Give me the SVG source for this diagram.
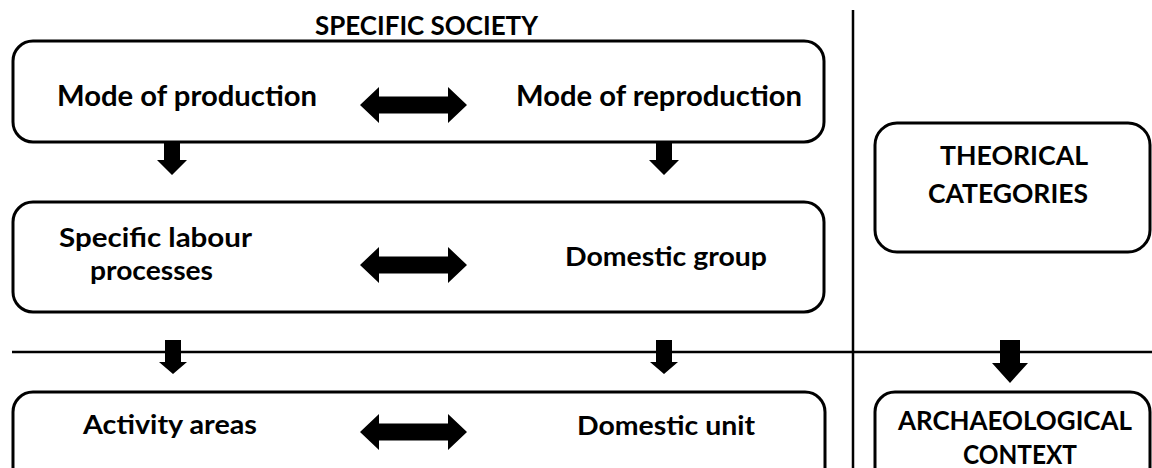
<svg xmlns="http://www.w3.org/2000/svg" width="1152" height="468" viewBox="0 0 1152 468">
<style>
.box{fill:#fff;stroke:#000;stroke-width:3}
.ln{stroke:#000;stroke-width:2.5;fill:none}
.t{font-family:Lato,"Open Sans",sans-serif;font-weight:bold;font-size:26px;fill:#000}
.ar{fill:#000}
</style>
<defs>
<path id="dbl" d="M0,0 L19,-18 L19,-8.5 L88,-8.5 L88,-18 L107,0 L88,18 L88,8.5 L19,8.5 L19,18 Z"/>
<path id="dn" d="M-8,0 L8,0 L8,18 L15,18 L0,33 L-15,18 L-8,18 Z"/>
<path id="dn2" d="M-8,0 L8,0 L8,22 L14,22 L0,34 L-14,22 L-8,22 Z"/>
</defs>
<g id="dividers">
<line class="ln" x1="853" y1="10" x2="853" y2="468"/>
<line class="ln" x1="12" y1="352" x2="1152" y2="352"/>
</g>
<g id="title">
<text class="t" x="315" y="35" textLength="223" lengthAdjust="spacingAndGlyphs">SPECIFIC SOCIETY</text>
</g>
<g id="specific-society">
<rect class="box" x="13" y="41" width="811" height="101" rx="20"/>
<text class="t" x="57" y="106" textLength="260" lengthAdjust="spacingAndGlyphs" style="font-size:28px">Mode of production</text>
<text class="t" x="516" y="106" textLength="286" lengthAdjust="spacingAndGlyphs" style="font-size:28px">Mode of reproduction</text>
</g>
<g id="labour">
<rect class="box" x="13" y="202" width="811" height="110" rx="20"/>
<text class="t" x="59" y="247" textLength="193" lengthAdjust="spacingAndGlyphs">Specific labour</text>
<text class="t" x="90" y="280" textLength="123" lengthAdjust="spacingAndGlyphs">processes</text>
<text class="t" x="565" y="266" textLength="202" lengthAdjust="spacingAndGlyphs">Domestic group</text>
</g>
<g id="archaeo-left">
<rect class="box" x="13" y="392" width="812" height="110" rx="20"/>
<text class="t" x="83" y="434" textLength="174" lengthAdjust="spacingAndGlyphs">Activity areas</text>
<text class="t" x="577" y="435" textLength="178" lengthAdjust="spacingAndGlyphs">Domestic unit</text>
</g>
<g id="theorical">
<rect class="box" x="875" y="123" width="275" height="129" rx="22"/>
<text class="t" x="940" y="165" textLength="148" lengthAdjust="spacingAndGlyphs">THEORICAL</text>
<text class="t" x="928" y="203" textLength="160" lengthAdjust="spacingAndGlyphs">CATEGORIES</text>
</g>
<g id="archaeological">
<rect class="box" x="875" y="392" width="275" height="110" rx="20"/>
<text class="t" x="898" y="430" textLength="234" lengthAdjust="spacingAndGlyphs">ARCHAEOLOGICAL</text>
<text class="t" x="963" y="464" textLength="114" lengthAdjust="spacingAndGlyphs">CONTEXT</text>
</g>
<g id="connectors" class="ar">
<use href="#dbl" x="360" y="105"/>
<use href="#dbl" x="360" y="265"/>
<use href="#dbl" x="360" y="432"/>
<use href="#dn" x="172" y="142"/>
<use href="#dn" x="664" y="142"/>
<use href="#dn2" x="173" y="340"/>
<use href="#dn2" x="664" y="340"/>
<path d="M1000,340 L1020,340 L1020,363 L1028,363 L1010,383 L992,363 L1000,363 Z"/>
</g>
</svg>
